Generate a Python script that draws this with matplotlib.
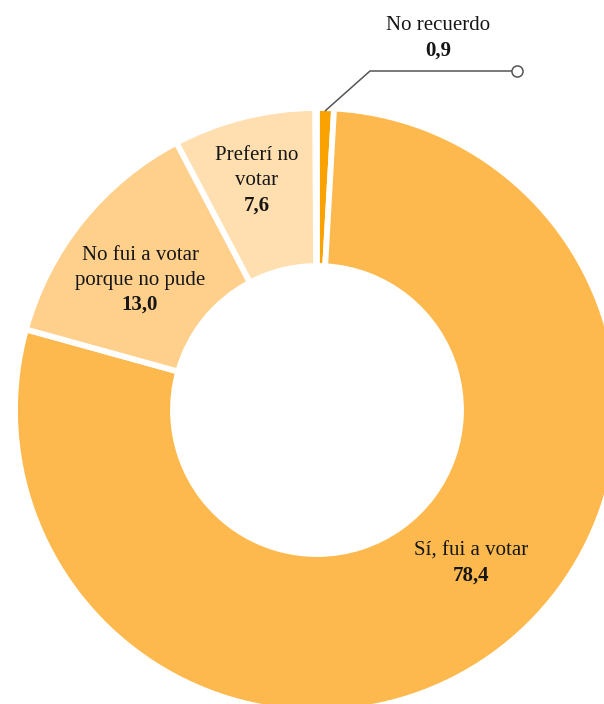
import matplotlib
matplotlib.use("Agg")
import matplotlib.pyplot as plt

# Survey answers, in the clockwise order they appear from 12 o'clock
categories = ["No recuerdo", "Sí, fui a votar", "No fui a votar\nporque no pude", "Preferí no\nvotar"]
values = [0.9, 78.4, 13.0, 7.6]
value_labels = ["0,9", "78,4", "13,0", "7,6"]
colors = ["#FAA202", "#FEB94E", "#FED08C", "#FFDFB0"]

W, H, DPI = 604, 704, 100
CX, CY, R = 317, 410, 300  # pixel geometry of the ring


def px(x, y):
    """Pixel position -> data coordinates (ring centre at origin, radius 1)."""
    return (x - CX) / R, (CY - y) / R


fig = plt.figure(figsize=(W / DPI, H / DPI), dpi=DPI)
ax = fig.add_axes([0, 0, 1, 1])

# outer/inner radii allow for the white separator stroke
ax.pie([v / 100 for v in values], colors=colors, startangle=90, counterclock=False,
       normalize=False, radius=302 / R,
       wedgeprops=dict(width=(302 - 144) / R, edgecolor="white", linewidth=4.2))

ax.set_xlim(-CX / R, (W - CX) / R)
ax.set_ylim((CY - H) / R, CY / R)
ax.set_aspect("equal")
ax.axis("off")

font = "Liberation Serif"
fs = 15
txt = "#161616"

# label text positions (pixels): name centre, value centre
label_pos = {
    0: ((438, 25), (438, 51)),
    1: ((471, 551), (471, 576)),
    2: ((140, 268), (140, 305)),
    3: ((257, 168), (257, 206)),
}
for i, ((nx, ny), (vx, vy)) in label_pos.items():
    ax.text(*px(nx, ny), categories[i], ha="center", va="center", fontsize=fs,
            family=font, color=txt, linespacing=1.48)
    ax.text(*px(vx, vy), value_labels[i], ha="center", va="center", fontsize=fs,
            family=font, color=txt, fontweight="bold")

# leader line for the smallest slice
lx, ly = zip(px(325, 111), px(370, 71), px(517, 71))
ax.plot(lx, ly, color="#555555", lw=1.1, solid_capstyle="butt")
ax.plot([lx[-1]], [ly[-1]], marker="o", ms=8, mfc="white", mec="#555555", mew=1.1)

fig.savefig("out.png", dpi=DPI, facecolor="white")
